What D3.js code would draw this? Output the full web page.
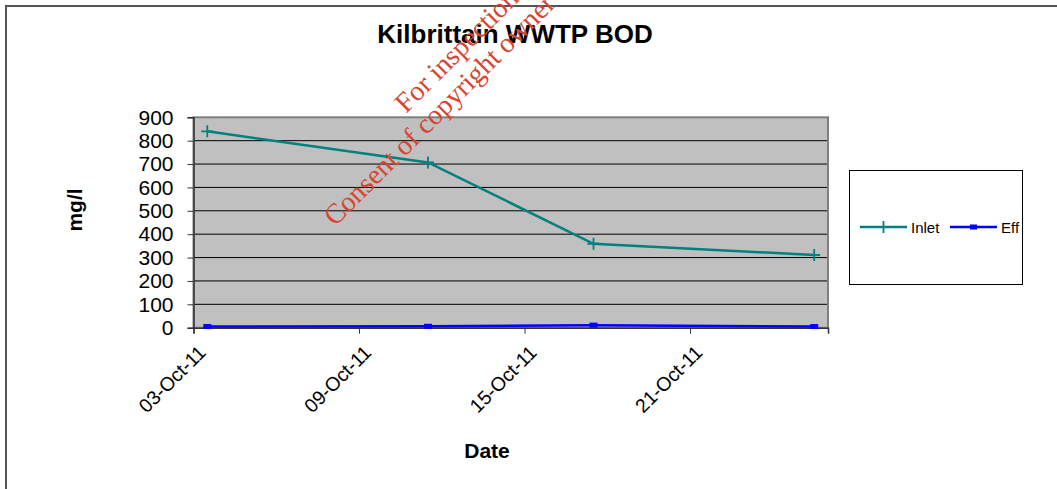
<!DOCTYPE html>
<html>
<head>
<meta charset="utf-8">
<script src="https://cdn.jsdelivr.net/npm/d3@7"></script>
<style>
  body { margin: 0; background: #fff; }
  svg { display: block; font-family: "Liberation Sans", Arial, sans-serif; }
</style>
</head>
<body>
<div id="chart"></div>
<script>
// data
const dates = ["03/10/2011", "11/10/2011", "17/10/2011", "25/10/2011"];
const inlet = [840, 707, 359, 311];
const eff = [5, 6, 11, 5];
const yTicks = [0, 100, 200, 300, 400, 500, 600, 700, 800, 900];
const xTicks = ["03/10/2011", "09/10/2011", "15/10/2011", "21/10/2011"];
const seriesNames = ["Inlet", "Eff"];

const parseDate = d3.timeParse("%d/%m/%Y");
const W = 1057, H = 489;

const svg = d3.select("#chart").append("svg")
    .attr("width", W)
    .attr("height", H);

// outer chart border (runs off right/bottom)
svg.append("rect")
    .attr("x", 6).attr("y", 6)
    .attr("width", W + 20).attr("height", H + 20)
    .attr("fill", "#fff")
    .attr("stroke", "#555")
    .attr("stroke-width", 2);

const plot = { left: 193.5, top: 117.3, right: 828, bottom: 327.7 };

const x = d3.scaleTime()
    .domain([parseDate("03/10/2011"), parseDate("26/10/2011")])
    .range([plot.left, plot.right]);

const y = d3.scaleLinear()
    .domain([0, 900])
    .range([plot.bottom, plot.top]);

// Excel puts points in the middle of the day slot
const px = d => x(d3.timeHour.offset(parseDate(d), 12));

// plot background
svg.append("rect")
    .attr("x", plot.left).attr("y", plot.top)
    .attr("width", plot.right - plot.left)
    .attr("height", plot.bottom - plot.top)
    .attr("fill", "#c0c0c0");

// gridlines
svg.append("g")
    .selectAll("line")
    .data(yTicks.filter(t => t > 0 && t < 900))
    .enter().append("line")
    .attr("x1", plot.left).attr("x2", plot.right)
    .attr("y1", d => y(d)).attr("y2", d => y(d))
    .attr("stroke", "#000")
    .attr("stroke-width", 1);

// plot border
svg.append("rect")
    .attr("x", plot.left).attr("y", plot.top)
    .attr("width", plot.right - plot.left)
    .attr("height", plot.bottom - plot.top)
    .attr("fill", "none")
    .attr("stroke", "#808080")
    .attr("stroke-width", 2);

// y axis
const yAxis = d3.axisLeft(y).tickValues(yTicks).tickSize(6).tickPadding(14);
const gy = svg.append("g")
    .attr("transform", `translate(${plot.left},0)`)
    .call(yAxis);
gy.select(".domain").attr("stroke", "#333").attr("stroke-width", 1.5);
gy.selectAll(".tick line").attr("stroke", "#333");
gy.selectAll(".tick text")
    .attr("font-size", 21)
    .attr("fill", "#000")
    .attr("font-family", "Liberation Sans, Arial, sans-serif");

// x axis
const xAxis = d3.axisBottom(x)
    .tickValues(xTicks.map(parseDate))
    .tickFormat(d3.timeFormat("%d-%b-%y"))
    .tickSize(6);
const gx = svg.append("g")
    .attr("transform", `translate(0,${plot.bottom})`)
    .call(xAxis);
gx.select(".domain").attr("stroke", "#333").attr("stroke-width", 1.5);
gx.selectAll(".tick line").attr("stroke", "#333");
gx.selectAll(".tick text")
    .attr("font-size", 19.5)
    .attr("fill", "#000")
    .attr("font-family", "Liberation Sans, Arial, sans-serif")
    .attr("text-anchor", "end")
    .attr("dy", null)
    .attr("y", 0)
    .attr("transform", "translate(13,26) rotate(-45)");

// lines
const inletData = dates.map((d, i) => ({ date: d, v: inlet[i] }));
const effData = dates.map((d, i) => ({ date: d, v: eff[i] }));
const line = d3.line().x(d => px(d.date)).y(d => y(d.v));

svg.append("path")
    .datum(inletData)
    .attr("fill", "none")
    .attr("stroke", "#008080")
    .attr("stroke-width", 2.5)
    .attr("d", line);

svg.selectAll(".inlet-mark")
    .data(inletData)
    .enter().append("path")
    .attr("class", "inlet-mark")
    .attr("d", d => `M${px(d.date) - 6},${y(d.v)}H${px(d.date) + 6}M${px(d.date)},${y(d.v) - 6}V${y(d.v) + 6}`)
    .attr("stroke", "#008080")
    .attr("stroke-width", 1.8);

svg.append("path")
    .datum(effData)
    .attr("fill", "none")
    .attr("stroke", "#0000ff")
    .attr("stroke-width", 2.5)
    .attr("d", line);

svg.selectAll(".eff-mark")
    .data(effData)
    .enter().append("rect")
    .attr("class", "eff-mark")
    .attr("x", d => px(d.date) - 4)
    .attr("y", d => y(d.v) - 2.5)
    .attr("width", 8).attr("height", 5)
    .attr("fill", "#0000ff");

// title and axis titles
svg.append("text")
    .attr("x", 515).attr("y", 43)
    .attr("text-anchor", "middle")
    .attr("font-size", 26)
    .attr("font-weight", "bold")
    .text("Kilbrittain WWTP BOD");

svg.append("text")
    .attr("transform", "translate(82,210) rotate(-90)")
    .attr("text-anchor", "middle")
    .attr("font-size", 21)
    .attr("font-weight", "bold")
    .text("mg/l");

svg.append("text")
    .attr("x", 487).attr("y", 458)
    .attr("text-anchor", "middle")
    .attr("font-size", 21)
    .attr("font-weight", "bold")
    .text("Date");

// legend
const legend = svg.append("g");
legend.append("rect")
    .attr("x", 849.5).attr("y", 170.5)
    .attr("width", 173).attr("height", 114)
    .attr("fill", "#fff")
    .attr("stroke", "#000")
    .attr("stroke-width", 1);

const legItems = [
    { name: seriesNames[0], color: "#008080", x0: 860 },
    { name: seriesNames[1], color: "#0000ff", x0: 950 }
];
legItems.forEach((it, i) => {
    legend.append("line")
        .attr("x1", it.x0).attr("x2", it.x0 + 47)
        .attr("y1", 227).attr("y2", 227)
        .attr("stroke", it.color)
        .attr("stroke-width", 2.5);
    if (i === 0) {
        legend.append("path")
            .attr("d", `M${it.x0 + 23.5},221V233`)
            .attr("stroke", it.color)
            .attr("stroke-width", 1.8);
    } else {
        legend.append("rect")
            .attr("x", it.x0 + 20).attr("y", 224.5)
            .attr("width", 7).attr("height", 5)
            .attr("fill", it.color);
    }
    legend.append("text")
        .attr("x", it.x0 + 51).attr("y", 232.5)
        .attr("font-size", 15)
        .text(it.name);
});

// watermark
const wm = svg.append("g")
    .attr("fill", "#d5452f")
    .attr("font-family", "Liberation Serif, Times New Roman, serif")
    .attr("font-size", 28);
wm.append("text")
    .attr("transform", "translate(406,114) rotate(-45)")
    .text("For inspection purposes only.");
wm.append("text")
    .attr("transform", "translate(335,227) rotate(-45)")
    .text("Consent of copyright owner required for any other use.");
</script>
</body>
</html>
